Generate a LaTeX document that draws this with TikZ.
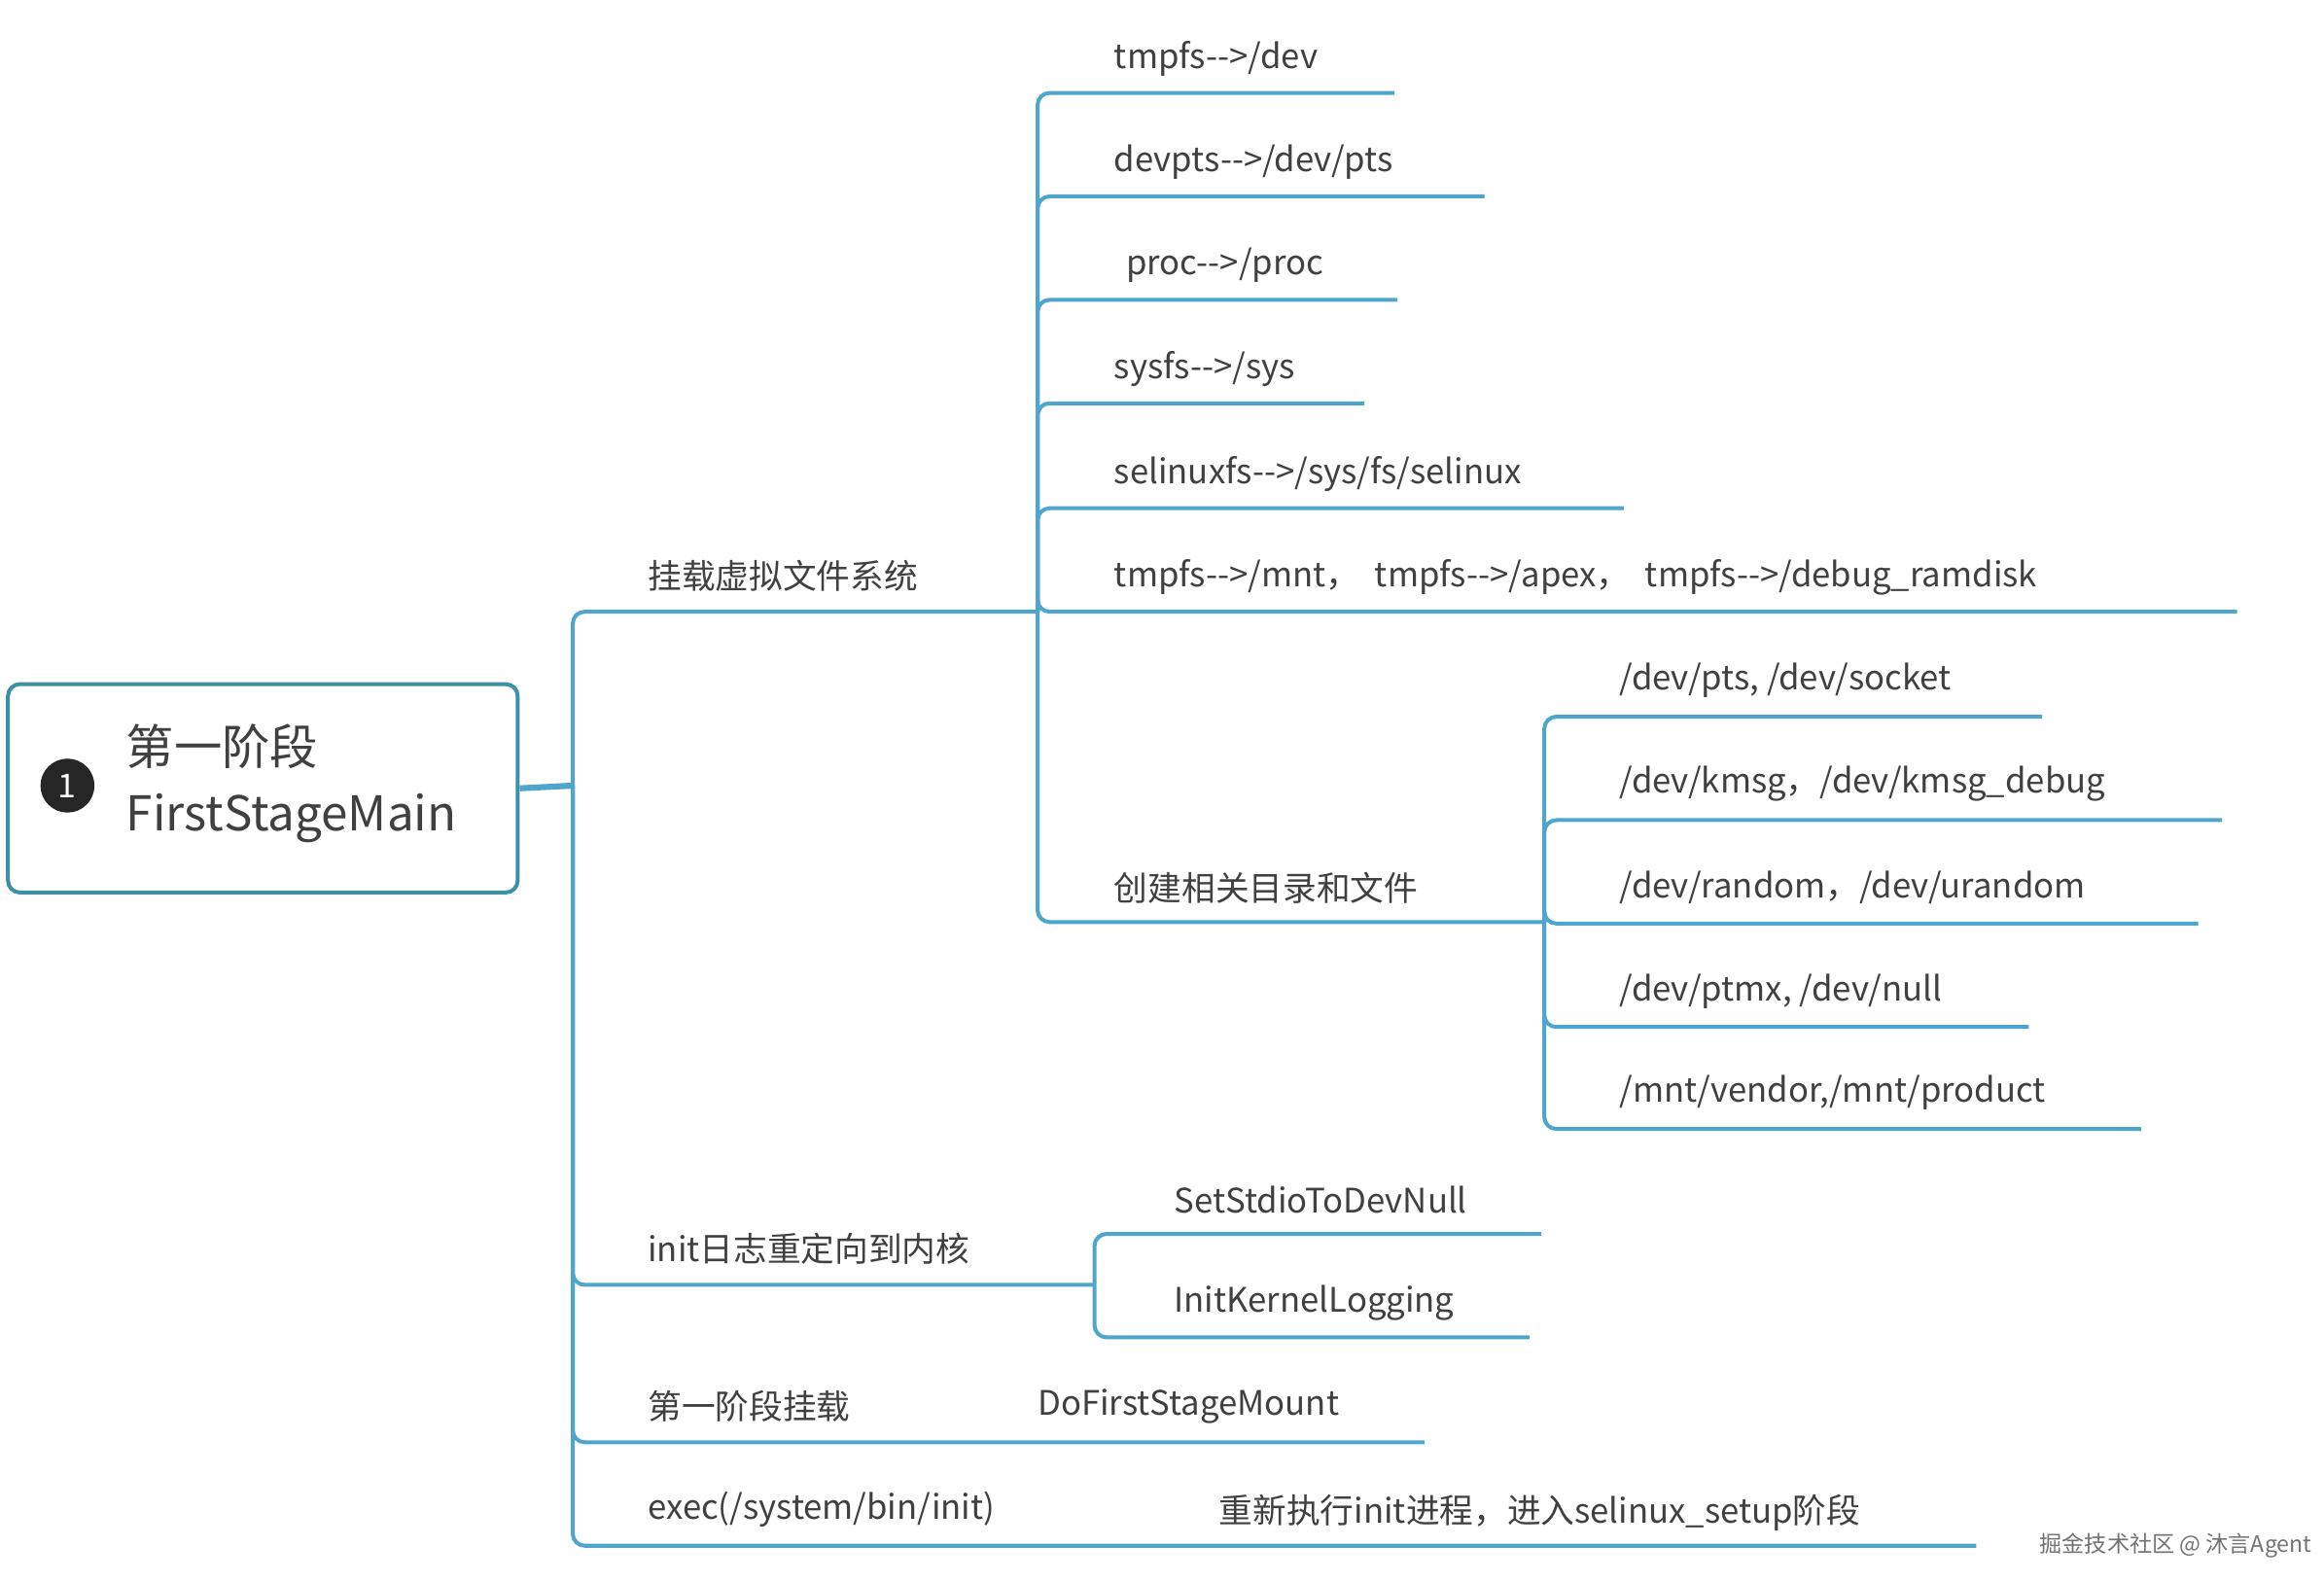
\documentclass[tikz,border=0pt]{standalone}
\usepackage{fontspec}
\setmainfont{Noto Sans CJK SC}
\begin{document}
\begin{tikzpicture}[x=1pt,y=-1pt,
  ln/.style={draw=lb,line width=2.6pt,rounded corners=8pt},
  tx/.style={anchor=west,inner sep=0pt,font=\fontsize{22.5}{26}\selectfont,text=txtc},
  ]
\definecolor{lb}{HTML}{4FA6CC}
\definecolor{txtc}{HTML}{404040}
\definecolor{bx}{HTML}{3D90A6}
\useasboundingbox[fill=white] (0,0) rectangle (1550,1054);
% root
\node[draw=bx,line width=2.6pt,rounded corners=8pt,minimum width=340pt,minimum height=139pt,anchor=north west] (root) at (4,455) {};
\node[circle,fill=black!85,minimum size=36pt,inner sep=0pt,text=white,font=\fontsize{22}{24}\selectfont] (num) at (45,524) {1};
\node[tx,font=\fontsize{32}{36}\selectfont] (rt1) at (84,498) {第一阶段};
\node[tx,font=\fontsize{32}{36}\selectfont] (rt2) at (84,546) {FirstStageMain};
\coordinate (tr) at (382,524);
\draw[lb,line width=4pt] (root.east) -- (tr);
% level1
\foreach \n/\y/\e/\t in {a/408/692/{挂载虚拟文件系统}, b/857/730/{init日志重定向到内核}, c/962/950/{第一阶段挂载}, d/1031/1318/{exec(/system/bin/init)}}{
  \coordinate (\n e) at (\e,\y);
  \draw[ln] (tr) |- (\n e);
  \node[tx] (\n t) at (432,\y-24) {\t};
}
\node[tx] (cx) at (692,938) {DoFirstStageMount};
\node[tx] (dx) at (813,1009) {重新执行init进程，进入selinux\_setup阶段};
% level2 under a
\foreach \n/\y/\e/\x/\t in {a1/62/930/743/{tmpfs-{}->/dev}, a2/131/990/743/{devpts-{}->/dev/pts}, a3/200/932/751/{proc-{}->/proc}, a4/269/910/743/{sysfs-{}->/sys}, a5/339/1083/743/{selinuxfs-{}->/sys/fs/selinux}, a6/408/1492/743/{tmpfs-{}->/mnt，\ \ tmpfs-{}->/apex，\ \ tmpfs-{}->/debug\_ramdisk}, a7/615/1030/743/{创建相关目录和文件}}{
  \coordinate (\n e) at (\e,\y);
  \draw[ln] (ae) |- (\n e);
  \node[tx] (\n t) at (\x,\y-23) {\t};
}
\foreach \n/\y/\e/\t in {b1/478/1362/{/dev/pts, /dev/socket}, b2/547/1482/{/dev/kmsg，/dev/kmsg\_debug}, b3/616/1466/{/dev/random，/dev/urandom}, b4/685/1353/{/dev/ptmx, /dev/null}, b5/753/1428/{/mnt/vendor,/mnt/product}}{
  \coordinate (\n e) at (\e,\y);
  \draw[ln] (a7e) |- (\n e);
  \node[tx] (\n t) at (1080,\y-24) {\t};
}
\foreach \n/\y/\e/\t in {c1/823/1028/{SetStdioToDevNull}, c2/892/1020/{InitKernelLogging}}{
  \coordinate (\n e) at (\e,\y);
  \draw[ln] (be) |- (\n e);
  \node[tx] (\n t) at (783,\y-23) {\t};
}
\node[anchor=east,inner sep=0pt,font=\fontsize{15}{17}\selectfont,text=black!55] (wm) at (1542,1031) {掘金技术社区 @ 沐言Agent};
\end{tikzpicture}
\end{document}
